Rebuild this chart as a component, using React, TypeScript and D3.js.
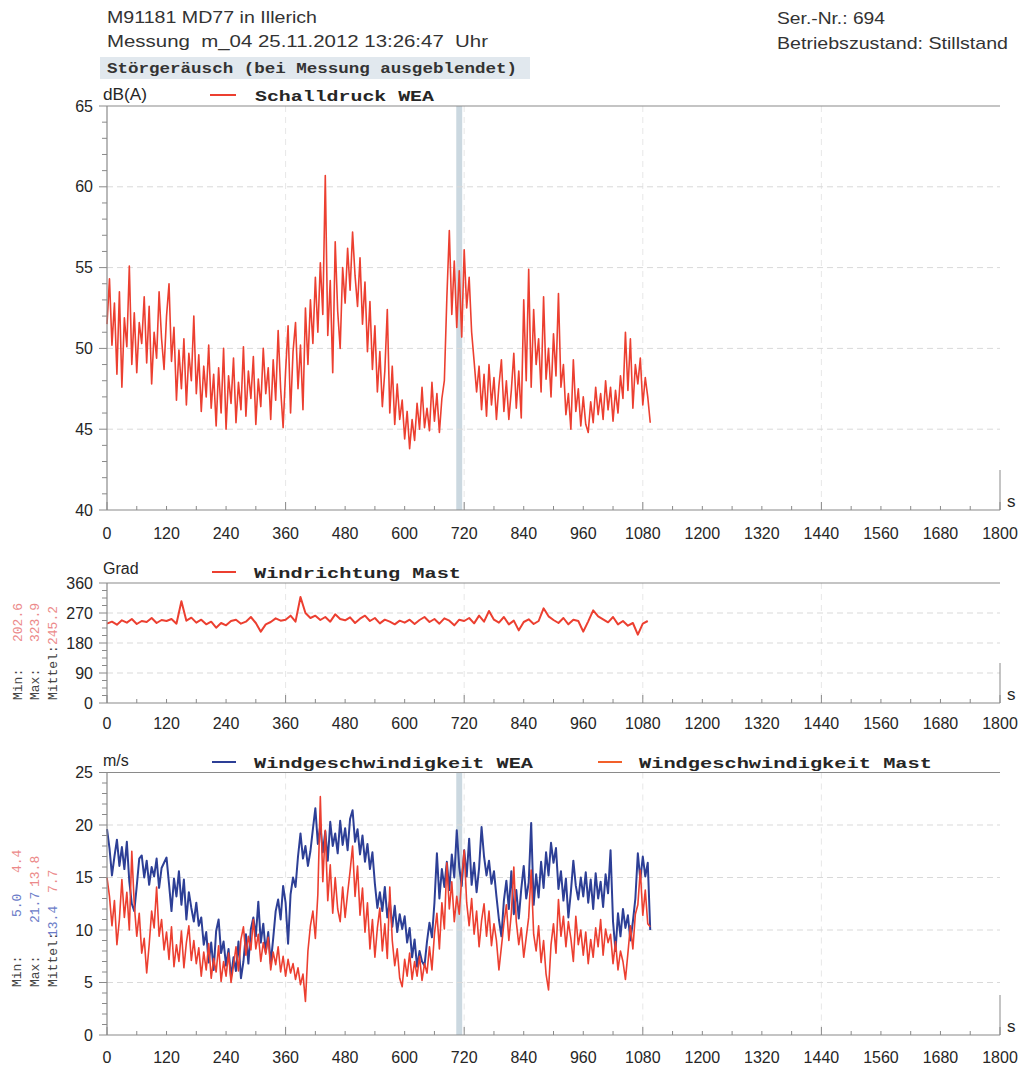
import React from 'react';
import * as d3 from 'd3';

// ---------- data ----------
const X_TICKS = [0, 120, 240, 360, 480, 600, 720, 840, 960, 1080, 1200, 1320, 1440, 1560, 1680, 1800];
const SPL_TICKS = [40, 45, 50, 55, 60, 65];
const DIR_TICKS = [0, 90, 180, 270, 360];
const WS_TICKS = [0, 5, 10, 15, 20, 25];

const SPL_STEP = 5; // s between samples
const SPL = [
  51.5, 54.3, 50.2, 52.8, 48.4, 53.5, 47.6, 51.9, 50.1, 55.1, 49.0, 52.2,
  48.5, 51.6, 50.3, 53.2, 49.1, 52.6, 47.8, 51.0, 49.4, 53.5, 50.6, 48.7,
  52.0, 54.0, 49.2, 51.3, 46.8, 49.9, 47.5, 50.6, 46.5, 49.7, 48.0, 52.0,
  47.2, 49.6, 46.1, 48.9, 47.0, 50.2, 46.3, 48.4, 45.2, 48.8, 46.0, 50.0,
  45.0, 48.3, 46.6, 49.4, 45.4, 47.9, 46.2, 50.1, 45.8, 48.6, 46.9, 49.5,
  45.3, 48.1, 46.4, 50.0, 47.2, 48.8, 45.6, 49.3, 46.8, 51.1, 47.5, 45.1,
  48.6, 51.4, 46.0, 49.8, 51.6, 47.5, 50.2, 46.2, 52.5, 49.0, 53.0, 50.3,
  54.4, 51.0, 55.3, 52.1, 60.7, 50.8, 54.2, 48.5, 56.6, 52.3, 50.0, 55.0,
  52.8, 56.2, 53.6, 57.2, 54.5, 52.6, 55.6, 51.5, 54.1, 49.8, 52.9, 48.7,
  51.4, 47.3, 49.8, 46.4, 48.6, 52.4, 46.0, 48.9, 45.3, 47.8, 45.6, 46.8,
  44.4, 46.1, 43.8, 45.6, 44.3, 46.6, 45.0, 47.6, 45.1, 46.3, 44.9, 47.9,
  45.5, 47.2, 44.8, 46.9, 48.0, 53.1, 57.3, 52.1, 55.4, 51.3, 54.8, 50.7,
  56.1, 52.5, 54.4, 51.0, 49.2, 47.3, 48.9, 46.2, 48.4, 45.8, 49.0, 46.5,
  48.2, 45.6, 47.7, 49.3, 46.1, 48.0, 45.6, 47.4, 49.7, 46.3, 48.6, 45.7,
  53.0, 48.0, 54.9, 47.6, 52.4, 49.0, 50.6, 47.3, 53.2, 48.1, 50.0, 47.0,
  50.9, 48.3, 53.4, 47.6, 49.0, 45.9, 47.2, 45.0, 49.3, 46.1, 47.5, 45.2,
  47.0, 45.3, 44.8, 46.7, 45.4, 47.6, 45.9, 47.2, 45.6, 48.0, 46.2, 47.6,
  45.5, 47.4, 46.0, 48.3, 46.9, 51.0, 47.4, 50.6, 46.3, 49.0, 47.8, 49.4,
  46.5, 48.2, 47.0, 45.4,
];

const DIR_STEP = 10;
const DIR = [
  238, 244, 235, 248, 241, 252, 237, 246, 243, 255, 240, 249,
  246, 252, 238, 305, 247, 256, 241, 250, 236, 244, 226, 240,
  233, 246, 250, 238, 244, 258, 240, 214, 236, 243, 254, 247,
  250, 262, 244, 318, 270, 255, 262, 249, 258, 244, 266, 252,
  248, 257, 240, 253, 262, 246, 255, 239, 250, 244, 236, 247,
  241, 250, 237, 249, 258, 243, 252, 238, 254, 247, 233, 250,
  246, 255, 239, 262, 244, 276, 250, 241, 258, 236, 247, 218,
  243, 251, 237, 246, 284, 260, 249, 240, 255, 236, 250, 246,
  214, 245, 278, 260, 251, 242, 258, 236, 246, 232, 240, 205, 238, 246,
];

const WS_STEP = 5;
const WS_WEA = [
  19.6, 17.8, 15.2, 17.0, 18.6, 16.1, 17.9, 15.8, 18.4, 14.6, 12.5, 11.8,
  14.2, 16.8, 17.1, 15.0, 16.6, 14.3, 16.0, 15.1, 16.8, 14.0, 15.9, 16.4,
  16.9, 14.4, 11.8, 14.9, 13.2, 15.6, 12.4, 14.8, 11.0, 13.6, 12.1, 10.8,
  12.6, 10.4, 11.2, 8.6, 9.8, 6.9, 8.8, 6.2, 9.9, 11.0, 7.8, 8.9,
  6.6, 8.2, 5.5, 7.4, 6.1, 8.9, 5.4, 7.0, 9.6, 6.8, 10.1, 11.2,
  9.4, 12.7, 8.8, 10.6, 7.9, 9.8, 6.8, 9.2, 11.8, 12.9, 11.0, 14.2,
  12.6, 8.7, 13.4, 15.0, 14.1, 17.0, 19.2, 16.8, 18.0, 16.1, 17.5, 19.6,
  21.6, 18.2, 20.0, 17.4, 19.4, 16.6, 20.3, 18.0, 19.2, 17.3, 20.4, 18.1,
  19.7, 17.6, 20.6, 21.4, 18.4, 19.6, 17.2, 19.0, 16.5, 18.2, 15.8, 17.4,
  14.4, 12.1, 13.6, 11.8, 14.1, 11.2, 12.7, 10.3, 12.3, 9.8, 11.5, 10.1,
  11.3, 8.8, 10.2, 7.4, 9.1, 6.5, 8.0, 7.0, 6.6, 8.9, 10.7, 9.3,
  12.6, 17.3, 13.0, 15.8, 14.1, 16.5, 13.8, 17.2, 15.0, 19.5, 16.0, 14.2,
  17.6, 15.1, 18.7, 14.3, 16.4, 13.6, 15.9, 19.8, 17.0, 15.2, 16.6, 14.4,
  15.6, 13.2, 11.0, 9.4, 12.8, 14.7, 12.0, 15.6, 11.5, 13.8, 11.1, 13.9,
  16.1, 13.0, 14.5, 20.2, 12.4, 15.3, 13.1, 16.5, 14.0, 17.4, 15.2, 18.3,
  16.4, 17.8, 13.9, 15.6, 12.8, 14.9, 11.2, 13.6, 16.6, 14.2, 12.9, 15.0,
  13.2, 15.5, 12.6, 14.8, 12.0, 15.4, 13.0, 14.6, 12.2, 15.3, 13.5, 17.6,
  10.8, 8.0, 11.6, 9.4, 12.0, 10.2, 11.4, 9.0, 10.8, 13.0, 17.3, 14.8,
  17.0, 15.1, 16.4, 10.0,
];
const WS_MAST = [
  15.0, 13.2, 10.4, 12.8, 8.6, 11.0, 14.8, 11.2, 13.6, 10.0, 17.5, 12.4,
  9.4, 11.6, 7.8, 9.2, 5.9, 8.6, 11.8, 10.2, 14.1, 9.4, 11.0, 8.1,
  9.8, 7.2, 10.3, 6.5, 8.6, 7.0, 9.9, 6.4, 8.8, 10.4, 7.1, 9.0,
  6.8, 8.3, 5.6, 7.9, 6.2, 8.7, 5.4, 7.3, 6.0, 8.5, 5.1, 7.0,
  5.6, 7.8, 5.0, 6.6, 8.4, 6.1, 9.1, 10.3, 7.6, 9.4, 8.1, 11.0,
  8.2, 9.6, 7.0, 8.8, 7.7, 9.3, 6.2, 7.9, 6.7, 8.4, 6.0, 7.5,
  5.6, 7.2, 5.9, 6.8, 5.3, 6.4, 4.8, 5.8, 3.2, 8.0, 10.4, 11.8,
  9.2, 13.4, 22.7, 14.6, 19.5, 12.8, 16.2, 11.6, 15.0, 12.0, 10.8, 14.1,
  11.2, 13.5, 15.6, 18.0, 13.2, 16.1, 11.4, 14.0, 9.8, 12.6, 8.2, 11.0,
  7.4, 10.2, 12.1, 8.0, 10.6, 7.3, 14.1, 9.0, 6.6, 8.2, 5.4, 4.6,
  7.2, 5.6, 7.8, 5.3, 7.0, 5.6, 7.5, 5.2, 6.8, 5.9, 8.4, 6.2,
  9.6, 11.6, 8.2, 12.6, 10.1, 16.4, 12.0, 14.6, 10.8, 13.2, 11.5, 15.0,
  17.6, 12.6, 10.4, 13.0, 9.6, 11.8, 8.4, 10.9, 12.5, 9.4, 11.8, 8.5,
  10.6, 9.0, 6.2, 8.4, 10.6, 12.4, 9.0, 11.6, 16.0, 10.8, 8.6, 10.2,
  7.4, 9.3, 11.2, 15.7, 9.6, 8.0, 10.4, 6.9, 9.0, 5.8, 4.3, 8.6,
  10.6, 7.8, 12.9, 9.4, 11.3, 8.4, 10.8, 9.2, 7.0, 11.3, 8.6, 10.0,
  7.6, 9.8, 6.8, 9.1, 7.4, 10.2, 8.4, 11.0, 7.6, 10.1, 8.8, 9.6,
  6.8, 8.9, 6.2, 8.0, 7.0, 5.3, 7.8, 10.4, 8.2, 11.5, 12.4, 15.7,
  11.4, 13.8, 10.6, 10.3,
];

const BAND = [704, 716]; // masked interval (s)

// ---------- styles ----------
const SANS = "'Liberation Sans', Arial, sans-serif";
const MONO = "'Liberation Mono', 'Courier New', monospace";
const TXT = '#262626';
const AXIS = '#8a8a8a';
const GRID = '#d9d9d9';
const RED = '#ec3f30';
const BLUE = '#2d3f96';
const ORANGE = '#f2602a';
const PINK = '#ec8a8a';
const LBLUE = '#6b7cc8';

const X0 = 107;
const X1 = 1000;
const x = d3.scaleLinear().domain([0, 1800]).range([X0, X1]);

type PanelProps = {
  y: d3.ScaleLinear<number, number>;
  ticks: number[];
  minorStep: number;
  labelY: number;
  band: boolean;
  children?: React.ReactNode;
};

function Panel({ y, ticks, minorStep, labelY, band, children }: PanelProps) {
  const [d0, d1] = y.domain();
  const top = y(d1);
  const bottom = y(d0);
  const minors = d3.range(d0, d1 + 1e-9, minorStep);
  const xMinor = d3.range(0, 1801, 60);
  return (
    <g>
      {band && (
        <rect x={x(BAND[0])} y={top} width={x(BAND[1]) - x(BAND[0])} height={bottom - top} fill="#cbd8e0" />
      )}
      {ticks.slice(1, -1).map((t) => (
        <line key={'gh' + t} x1={X0} x2={X1} y1={y(t)} y2={y(t)} stroke={GRID} strokeDasharray="6,4" strokeWidth={1} />
      ))}
      {[360, 720, 1080, 1440].map((t) => (
        <line key={'gv' + t} x1={x(t)} x2={x(t)} y1={top} y2={bottom} stroke={GRID} strokeDasharray="6,5" strokeWidth={1} opacity={0.6} />
      ))}
      {children}
      {/* frame */}
      <line x1={X0} x2={X1} y1={top} y2={top} stroke={AXIS} strokeWidth={1.2} />
      <line x1={X0} x2={X1} y1={bottom} y2={bottom} stroke={AXIS} strokeWidth={1.2} />
      <line x1={X0} x2={X0} y1={top} y2={bottom} stroke={AXIS} strokeWidth={1.2} />
      <line x1={X1} x2={X1} y1={bottom - 40} y2={bottom} stroke={AXIS} strokeWidth={1} />
      {minors.map((t) => (
        <line key={'ym' + t} x1={X0 - (ticks.includes(t) ? 8 : 5)} x2={X0} y1={y(t)} y2={y(t)} stroke={AXIS} strokeWidth={1} />
      ))}
      {xMinor.map((t) => (
        <line key={'xm' + t} x1={x(t)} x2={x(t)} y1={bottom - (t % 360 === 0 ? 8 : 4)} y2={bottom} stroke={AXIS} strokeWidth={1} />
      ))}
      {ticks.map((t) => (
        <text key={'yl' + t} x={93} y={y(t)} dy="0.35em" textAnchor="end" fontFamily={SANS} fontSize={16} fill={TXT}>
          {t}
        </text>
      ))}
      {X_TICKS.map((t) => (
        <text key={'xl' + t} x={x(t)} y={labelY} textAnchor="middle" fontFamily={SANS} fontSize={16} fill={TXT}>
          {t}
        </text>
      ))}
      <text x={1007} y={bottom - 3} fontFamily={SANS} fontSize={17} fill={TXT}>s</text>
    </g>
  );
}

function series(values: number[], step: number, y: d3.ScaleLinear<number, number>) {
  const line = d3
    .line<number>()
    .x((_, i) => x(i * step))
    .y((v) => y(v));
  return line(values) || '';
}

function Rot({ cx, cy, parts }: { cx: number; cy: number; parts: { t: string; off: number; c: string }[] }) {
  return (
    <g transform={`translate(${cx},${cy}) rotate(-90)`}>
      {parts.map((p, i) => (
        <text key={i} x={p.off} y={0} fontFamily={MONO} fontSize={13} fill={p.c}>
          {p.t}
        </text>
      ))}
    </g>
  );
}

export default function App() {
  const y1 = d3.scaleLinear().domain([40, 65]).range([510, 106]);
  const y2 = d3.scaleLinear().domain([0, 360]).range([703, 583]);
  const y3 = d3.scaleLinear().domain([0, 25]).range([1035, 772.5]);

  return (
    <svg width={1028} height={1068} style={{ position: 'absolute', left: 0, top: 0, background: '#fff' }}>
      <rect width={1028} height={1068} fill="#fff" />
      {/* header */}
      <text x={107} y={23} fontFamily={SANS} fontSize={17} fill="#333" textLength={210} lengthAdjust="spacingAndGlyphs">M91181 MD77 in Illerich</text>
      <text x={107} y={47} fontFamily={SANS} fontSize={17} fill="#333" textLength={381} lengthAdjust="spacingAndGlyphs" xmlSpace="preserve">Messung  m_04 25.11.2012 13:26:47  Uhr</text>
      <rect x={100} y={57} width={430} height={22} fill="#e1e8ee" />
      <text x={107} y={73} fontFamily={MONO} fontWeight="bold" fontSize={15} fill="#333" textLength={410} lengthAdjust="spacingAndGlyphs">Störgeräusch (bei Messung ausgeblendet)</text>
      <text x={777} y={24} fontFamily={SANS} fontSize={17} fill="#333" textLength={108} lengthAdjust="spacingAndGlyphs">Ser.-Nr.: 694</text>
      <text x={777} y={49} fontFamily={SANS} fontSize={17} fill="#333" textLength={231} lengthAdjust="spacingAndGlyphs">Betriebszustand: Stillstand</text>

      {/* panel 1 */}
      <text x={103} y={100} fontFamily={SANS} fontSize={16} fill={TXT} textLength={44} lengthAdjust="spacingAndGlyphs">dB(A)</text>
      <line x1={210} x2={236} y1={95} y2={95} stroke={RED} strokeWidth={2} />
      <text x={255} y={101} fontFamily={MONO} fontWeight="bold" fontSize={15} fill={TXT} textLength={179} lengthAdjust="spacingAndGlyphs">Schalldruck WEA</text>
      <Panel y={y1} ticks={SPL_TICKS} minorStep={1} labelY={539} band>
        <path d={series(SPL, SPL_STEP, y1)} fill="none" stroke={RED} strokeWidth={1.6} strokeLinejoin="round" />
      </Panel>

      {/* panel 2 */}
      <text x={103} y={574} fontFamily={SANS} fontSize={16} fill={TXT}>Grad</text>
      <line x1={212} x2={236} y1={572} y2={572} stroke={RED} strokeWidth={2} />
      <text x={254} y={578} fontFamily={MONO} fontWeight="bold" fontSize={15} fill={TXT} textLength={207} lengthAdjust="spacingAndGlyphs">Windrichtung Mast</text>
      <Panel y={y2} ticks={DIR_TICKS} minorStep={22.5} labelY={729} band={false}>
        <path d={series(DIR, DIR_STEP, y2)} fill="none" stroke={RED} strokeWidth={2} strokeLinejoin="round" />
      </Panel>
      <Rot cx={22} cy={700} parts={[{ t: 'Min:', off: 0, c: '#444' }, { t: '202.6', off: 58, c: PINK }]} />
      <Rot cx={39} cy={700} parts={[{ t: 'Max:', off: 0, c: '#444' }, { t: '323.9', off: 58, c: PINK }]} />
      <Rot cx={57} cy={700} parts={[{ t: 'Mittel:', off: 0, c: '#444' }, { t: '245.2', off: 55, c: PINK }]} />

      {/* panel 3 */}
      <text x={103} y={766} fontFamily={SANS} fontSize={16} fill={TXT}>m/s</text>
      <line x1={212} x2={236} y1={762} y2={762} stroke={BLUE} strokeWidth={2} />
      <text x={254} y={768} fontFamily={MONO} fontWeight="bold" fontSize={15} fill={TXT} textLength={279} lengthAdjust="spacingAndGlyphs">Windgeschwindigkeit WEA</text>
      <line x1={598} x2={622} y1={762} y2={762} stroke={ORANGE} strokeWidth={2} />
      <text x={639} y={768} fontFamily={MONO} fontWeight="bold" fontSize={15} fill={TXT} textLength={293} lengthAdjust="spacingAndGlyphs">Windgeschwindigkeit Mast</text>
      <Panel y={y3} ticks={WS_TICKS} minorStep={1} labelY={1063} band>
        <path d={series(WS_WEA, WS_STEP, y3)} fill="none" stroke={BLUE} strokeWidth={2} strokeLinejoin="round" />
        <path d={series(WS_MAST, WS_STEP, y3)} fill="none" stroke={RED} strokeWidth={1.6} strokeLinejoin="round" />
      </Panel>
      <Rot cx={21} cy={987} parts={[{ t: 'Min:', off: 0, c: '#444' }, { t: '5.0', off: 70, c: LBLUE }, { t: '4.4', off: 114, c: PINK }]} />
      <Rot cx={39} cy={987} parts={[{ t: 'Max:', off: 0, c: '#444' }, { t: '21.7', off: 64, c: LBLUE }, { t: '13.8', off: 100, c: PINK }]} />
      <Rot cx={57} cy={987} parts={[{ t: 'Mittel:', off: 0, c: '#444' }, { t: '13.4', off: 50, c: LBLUE }, { t: '7.7', off: 94, c: PINK }]} />
    </svg>
  );
}
